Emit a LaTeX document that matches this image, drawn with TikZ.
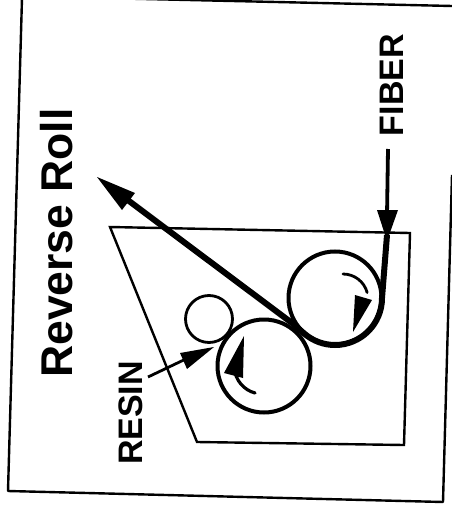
\documentclass[tikz,border=0pt]{standalone}
\usepackage{fontspec}
\setmainfont{Liberation Sans}
\usetikzlibrary{arrows.meta}
\tikzset{
 lab/.style={inner sep=0pt,rotate=90,anchor=center},
 roll/.style={draw,circle,inner sep=0pt,line width=4pt,minimum size=93pt},
 tip/.style={fill=black,draw=none}
}
\begin{document}
\begin{tikzpicture}[x=1pt,y=-1pt]
\useasboundingbox (0,0) rectangle (451,508);
\draw[line width=2.4pt,line join=round] (22,-2) -- (8,491) -- (443,502) -- (452,175);
\draw[line width=2.4pt] (100,-2) -- (452,6);
\draw[line width=2.4pt] (110,227) -- (410,233) -- (404,445) -- (197,442) -- cycle;
\node[roll] (r1) at (335,298) {};
\node[roll] (r2) at (264,366) {};
\node[draw,circle,inner sep=0pt,line width=2.8pt,minimum size=47pt] (r3) at (209,319) {};
\coordinate (ftop) at (388,149);
\coordinate (fdown) at (382,298);
\coordinate (fend) at (97,177);
\draw[line width=3.8pt] (ftop) -- (387,215);
\draw[line width=6pt,line join=round] (387,235) -- (fdown) arc[start angle=0,end angle=130,radius=47] -- (292,323) -- (125,198);
\fill[tip] (fend) -- (135,193) -- (122,210) -- cycle;
\fill[tip] (387,241) -- (377,210) -- (398,210) -- cycle;
\node[lab,font=\bfseries\fontsize{44.5}{44.5}\selectfont] (title) at (57,243) {Reverse Roll};
\node[lab,font=\bfseries\fontsize{34}{34}\selectfont] (fiber) at (392,85) {FIBER};
\node[lab,font=\bfseries\fontsize{34}{34}\selectfont] (resin) at (131,413) {RESIN};
\draw[line width=2.8pt] (148,377) -- (190,357);
\fill[tip] (214,347) -- (180,353) -- (187,369) -- cycle;
\draw[line width=2.8pt,line cap=round] (343,274) arc[start angle=-90,end angle=-15,radius=25];
\fill[tip] (353,332) -- (355,295) -- (372,300) -- cycle;
\draw[line width=3.2pt,line cap=round] (255,393) arc[start angle=105,end angle=175,radius=28];
\fill[tip] (244,336) -- (243,378) -- (224,373) -- cycle;
\end{tikzpicture}
\end{document}
